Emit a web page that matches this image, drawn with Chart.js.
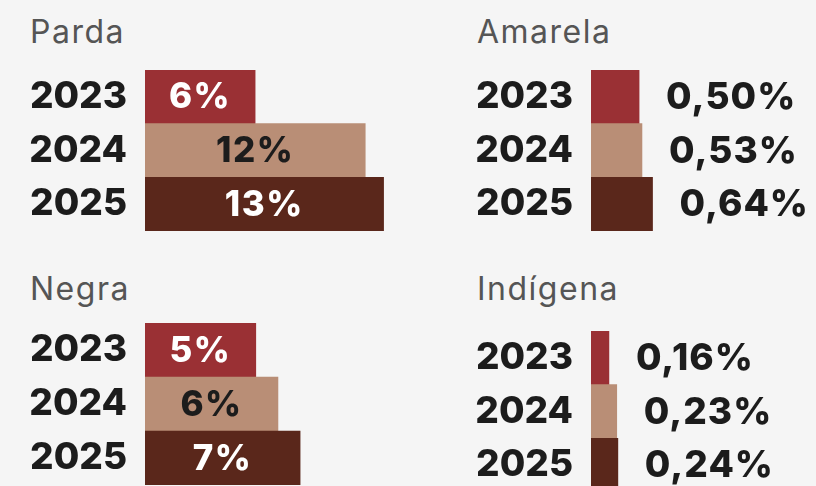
<!DOCTYPE html>
<html>
<head>
<meta charset="utf-8">
<script src="https://cdn.jsdelivr.net/npm/chart.js@4.4.0/dist/chart.umd.min.js"></script>
<style>
  html, body { margin: 0; padding: 0; background: #f5f5f5; width: 816px; height: 486px; overflow: hidden; }
  .box { position: absolute; }
  .title { position: absolute; font-family: Inter, sans-serif; font-size: 32px; letter-spacing: 1.5px; color: #555555; line-height: 1; }
</style>
</head>
<body>
<div class="title" style="left:30px; top:16px">Parda</div>
<div class="title" style="left:477px; top:16px">Amarela</div>
<div class="title" style="left:30px; top:273px">Negra</div>
<div class="title" style="left:477px; top:273px">Indígena</div>

<div class="box" style="left:0; top:70px; width:408px; height:161px"><canvas id="parda"></canvas></div>
<div class="box" style="left:408px; top:70px; width:408px; height:161px"><canvas id="amarela"></canvas></div>
<div class="box" style="left:0; top:323px; width:408px; height:162px"><canvas id="negra"></canvas></div>
<div class="box" style="left:408px; top:331px; width:408px; height:161px"><canvas id="indigena"></canvas></div>

<script>
var years = ['2023', '2024', '2025']
var parda = [6, 12, 13]
var negra = [5, 6, 7]
var amarela = [0.50, 0.53, 0.64]
var indigena = [0.16, 0.23, 0.24]

var barColors = ['#9a3034', '#b98e76', '#5a271b']
var insideText = ['#ffffff', '#1c1c1c', '#ffffff']

/**
 * Format a value the Brazilian way (comma decimal)
 */
function fmt(v, decimals) {
    return v.toFixed(decimals).replace('.', ',') + '%'
}

// draws the value next to / inside each bar
var valueLabels = {
    id: 'valueLabels',
    afterDatasetsDraw(chart, args, opts) {
        var ctx = chart.ctx
        var meta = chart.getDatasetMeta(0)
        var data = chart.data.datasets[0].data
        ctx.save()
        ctx.textBaseline = 'middle'
        meta.data.forEach((bar, i) => {
            var txt = fmt(data[i], opts.decimals)
            if (opts.inside) {
                ctx.font = '800 35px Inter'
                ctx.letterSpacing = '1.5px'
                ctx.fillStyle = insideText[i]
                ctx.textAlign = 'center'
                ctx.fillText(txt, (bar.base + bar.x) / 2, bar.y + 1)
            } else {
                ctx.font = '800 37px Inter'
                ctx.letterSpacing = '1px'
                ctx.fillStyle = '#1c1c1c'
                ctx.textAlign = 'left'
                ctx.fillText(txt, bar.x + 27, bar.y + 1)
            }
        })
        ctx.restore()
    }
}

function makeChart(id, values, max, axisWidth, inside, decimals) {
    return new Chart(document.getElementById(id), {
        type: 'bar',
        data: {
            labels: years,
            datasets: [{
                data: values,
                backgroundColor: barColors,
                borderWidth: 0,
                barPercentage: 1,
                categoryPercentage: 1
            }]
        },
        options: {
            indexAxis: 'y',
            maintainAspectRatio: false,
            animation: false,
            events: [],
            layout: { padding: 0 },
            plugins: {
                legend: { display: false },
                tooltip: { enabled: false },
                valueLabels: { inside: inside, decimals: decimals }
            },
            scales: {
                x: { display: false, min: 0, max: max },
                y: {
                    border: { display: false },
                    grid: { display: false, drawTicks: false },
                    afterFit: (scale) => {
                        scale.width = axisWidth
                        scale.paddingTop = 0 // labels may overflow, bars should fill the box
                        scale.paddingBottom = 0
                    },
                    ticks: {
                        padding: 18,
                        color: '#1c1c1c',
                        font: { family: 'Inter', weight: '800', size: 37 }
                    }
                }
            }
        },
        plugins: [valueLabels]
    })
}

makeChart('parda', parda, 14.33, 145, true, 0)
makeChart('negra', negra, 11.87, 145, true, 0)
makeChart('amarela', amarela, 2.34, 183, false, 2)
makeChart('indigena', indigena, 2.01, 183, false, 2)
</script>
</body>
</html>
